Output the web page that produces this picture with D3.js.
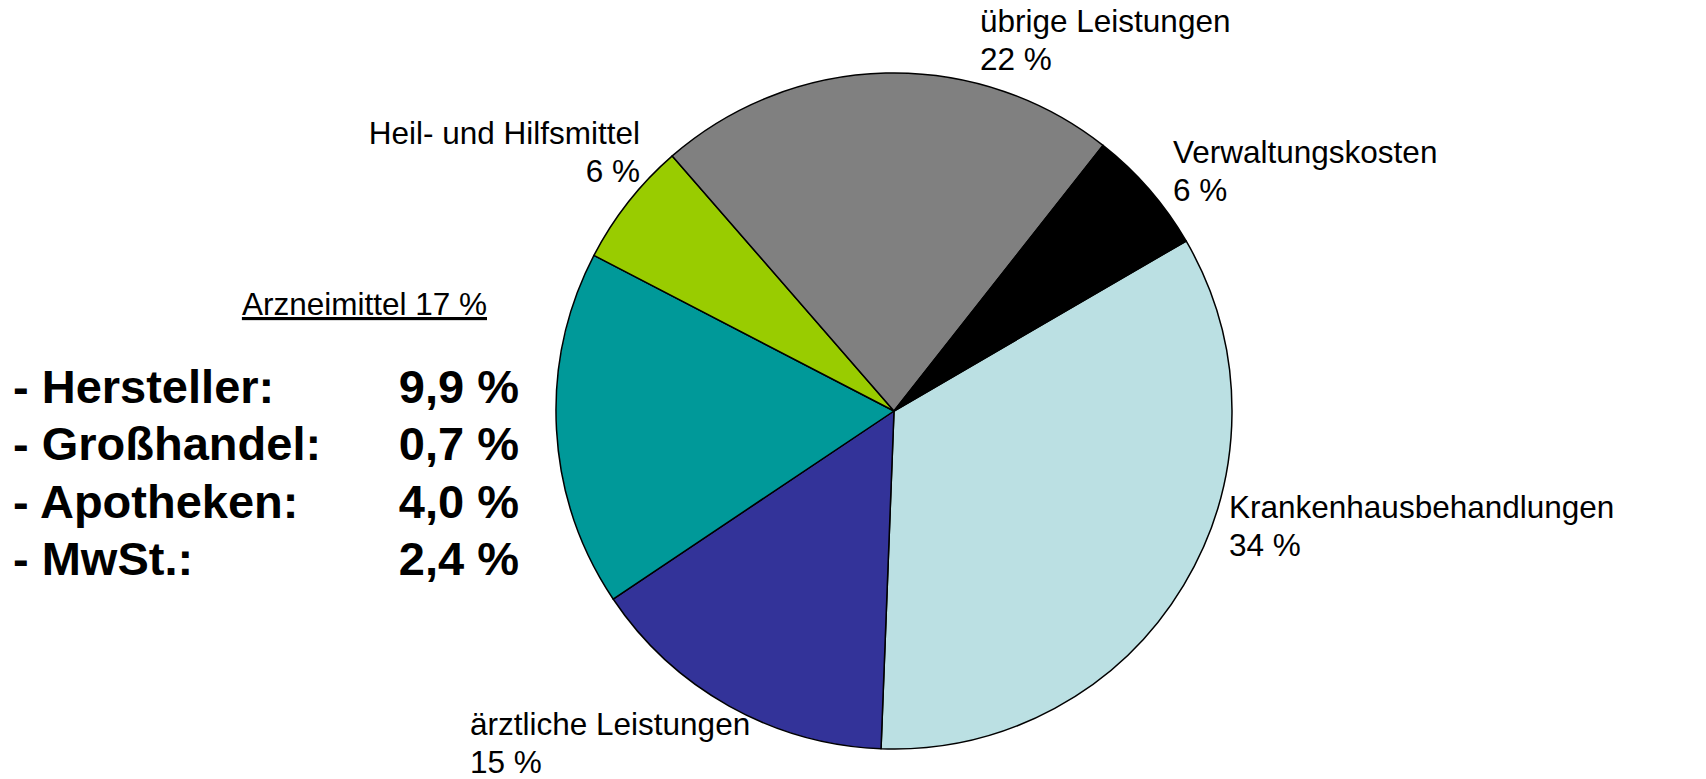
<!DOCTYPE html>
<html>
<head>
<meta charset="utf-8">
<script src="https://cdn.jsdelivr.net/npm/d3@7"></script>
<style>
  body { margin: 0; background: #fff; }
  svg { display: block; font-family: "Liberation Sans", Arial, sans-serif; }
</style>
</head>
<body>
<svg id="chart" width="1706" height="779"></svg>
<script>
// slices, clockwise starting at Krankenhausbehandlungen
const categories = ["Krankenhausbehandlungen", "ärztliche Leistungen", "Arzneimittel", "Heil- und Hilfsmittel", "übrige Leistungen", "Verwaltungskosten"];
const shares = [34, 15, 17, 6, 22, 6];
const colors = ["#BBE0E3", "#333399", "#009999", "#99CC00", "#808080", "#000000"];

// Arzneimittel breakdown
const drugParts = ["- Hersteller:", "- Großhandel:", "- Apotheken:", "- MwSt.:"];
const drugValues = ["9,9", "0,7", "4,0", "2,4"];

// label anchors (x, first baseline, text-anchor)
const labelLayout = [
  { x: 1229, y: 518, anchor: "start" },
  { x: 470, y: 735, anchor: "start" },
  null,
  { x: 640, y: 144, anchor: "end" },
  { x: 980, y: 32, anchor: "start" },
  { x: 1173, y: 163, anchor: "start" }
];

const svg = d3.select("#chart");
const cx = 894, cy = 411, r = 338;

const pie = d3.pie()
  .sort(null)
  .startAngle(59.8 * Math.PI / 180)
  .endAngle((59.8 + 360) * Math.PI / 180);

const arc = d3.arc().innerRadius(0).outerRadius(r);

const g = svg.append("g").attr("transform", `translate(${cx},${cy})`);

g.selectAll("path")
  .data(pie(shares))
  .join("path")
  .attr("d", arc)
  .attr("fill", (d, i) => colors[i])
  .attr("stroke", "#000")
  .attr("stroke-width", 1.5)
  .attr("stroke-linejoin", "round");

// slice labels
categories.forEach((c, i) => {
  const p = labelLayout[i];
  if (!p) return;
  const t = svg.append("text")
    .attr("x", p.x)
    .attr("y", p.y)
    .attr("text-anchor", p.anchor)
    .attr("font-size", 31.5)
    .attr("fill", "#000");
  t.append("tspan").attr("x", p.x).text(c);
  t.append("tspan").attr("x", p.x).attr("dy", 38).text(shares[i] + " %");
});

// Arzneimittel heading, underlined
svg.append("text")
  .attr("x", 487)
  .attr("y", 315)
  .attr("text-anchor", "end")
  .attr("font-size", 31.5)
  .attr("text-decoration", "underline")
  .text(categories[2] + " " + shares[2] + " %");

// breakdown list
const rowY = d3.scalePoint().domain(d3.range(drugParts.length)).range([403, 575]);
drugParts.forEach((p, i) => {
  svg.append("text")
    .attr("x", 13)
    .attr("y", rowY(i))
    .attr("font-size", 47)
    .attr("font-weight", "bold")
    .text(p);
  svg.append("text")
    .attr("x", 519)
    .attr("y", rowY(i))
    .attr("text-anchor", "end")
    .attr("font-size", 47)
    .attr("font-weight", "bold")
    .text(drugValues[i] + " %");
});
</script>
</body>
</html>
